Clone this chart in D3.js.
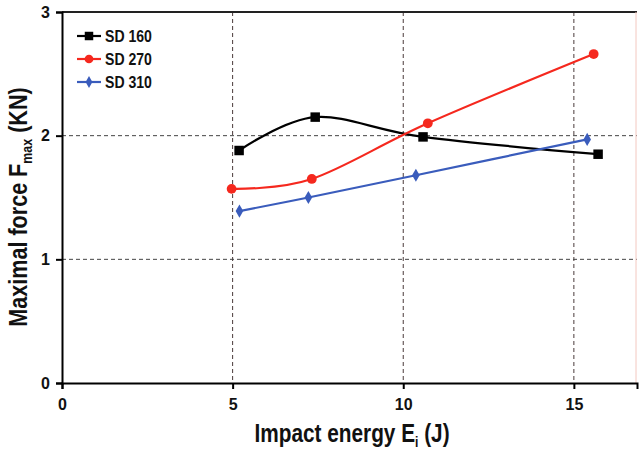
<!DOCTYPE html>
<html><head><meta charset="utf-8">
<script src="https://cdn.jsdelivr.net/npm/d3@7"></script>
<style>
html,body{margin:0;padding:0;background:#fff;}
svg{display:block;font-family:"Liberation Sans",Arial,sans-serif;}
</style></head>
<body><svg id="c" width="639" height="450"></svg>
<script>
const seriesNames = ["SD 160", "SD 270", "SD 310"];
const sd160 = [[5.19, 1.88], [7.42, 2.15], [10.58, 1.99], [15.71, 1.85]];
const sd270 = [[4.97, 1.57], [7.32, 1.65], [10.72, 2.10], [15.58, 2.66]];
const sd310 = [[5.20, 1.39], [7.22, 1.50], [10.37, 1.68], [15.39, 1.97]];
const xTicks = [0, 5, 10, 15];
const yTicks = [0, 1, 2, 3];
const xDomain = [0, 16.85];
const yDomain = [0, 3];

const svg = d3.select("#c");
const m = {l: 62, r: 2, t: 12, b: 67};
const W = 639, H = 450;
const x = d3.scaleLinear().domain(xDomain).range([m.l, W - m.r]);
const y = d3.scaleLinear().domain(yDomain).range([H - m.b, m.t]);

// grid
const g = svg.append("g");
g.selectAll(".vg").data(xTicks.filter(d => d > 0)).enter().append("line")
  .attr("x1", d => x(d)).attr("x2", d => x(d)).attr("y1", y(3)).attr("y2", y(0))
  .attr("stroke", "#4a3a3a").attr("stroke-width", 1).attr("stroke-dasharray", "4,3");
g.selectAll(".hg").data(yTicks.filter(d => d > 0 && d < 3)).enter().append("line")
  .attr("x1", x(0)).attr("x2", x(xDomain[1])).attr("y1", d => y(d)).attr("y2", d => y(d))
  .attr("stroke", "#444").attr("stroke-width", 1).attr("stroke-dasharray", "4,3");

// frame top and right
svg.append("line").attr("x1", x(0)).attr("x2", x(xDomain[1])).attr("y1", y(3)).attr("y2", y(3))
  .attr("stroke", "#222").attr("stroke-width", 2);
svg.append("line").attr("x1", x(xDomain[1]) - 1).attr("x2", x(xDomain[1]) - 1).attr("y1", y(3)).attr("y2", y(0))
  .attr("stroke", "#f3c8c0").attr("stroke-width", 1);

// axes
const xAxis = d3.axisBottom(x).tickValues(xTicks).tickSize(6).tickPadding(10).tickFormat(d3.format("d"));
const yAxis = d3.axisLeft(y).tickValues(yTicks).tickSize(6).tickPadding(6).tickFormat(d3.format("d"));
const xa = svg.append("g").attr("transform", `translate(0,${y(0)})`).call(xAxis);
const ya = svg.append("g").attr("transform", `translate(${x(0)},0)`).call(yAxis);
[xa, ya].forEach(a => {
  a.select(".domain").attr("stroke", "#000").attr("stroke-width", 2);
  a.selectAll(".tick line").attr("stroke", "#000").attr("stroke-width", 2);
  a.selectAll(".tick text").attr("fill", "#111").style("font-size", "16px").style("font-weight", "bold")
    .style("font-family", "'Liberation Sans',Arial,sans-serif");
});

// series
const series = [
  {name: seriesNames[0], data: sd160, color: "#000000", sym: d3.symbolSquare, size: 90},
  {name: seriesNames[1], data: sd270, color: "#f5281e", sym: d3.symbolCircle, size: 75},
  {name: seriesNames[2], data: sd310, color: "#3a5cbc", sym: d3.symbolDiamond, size: 50}
];
const line = d3.line().x(d => x(d[0])).y(d => y(d[1])).curve(d3.curveCatmullRom.alpha(0));
series.forEach(s => {
  svg.append("path").attr("d", line(s.data)).attr("fill", "none")
    .attr("stroke", s.color).attr("stroke-width", 2.2);
  svg.selectAll(null).data(s.data).enter().append("path")
    .attr("d", d3.symbol().type(s.sym).size(s.size))
    .attr("transform", d => `translate(${x(d[0])},${y(d[1])})`)
    .attr("fill", s.color);
});

// legend
const lg = svg.append("g").attr("transform", "translate(77,36)");
series.forEach((s, i) => {
  const row = lg.append("g").attr("transform", `translate(0,${i * 23})`);
  row.append("line").attr("x1", 0).attr("x2", 24).attr("y1", 0).attr("y2", 0)
    .attr("stroke", s.color).attr("stroke-width", 2.2);
  row.append("path").attr("d", d3.symbol().type(s.sym).size(s.size * 0.8)).attr("transform", "translate(12,0)")
    .attr("fill", s.color);
  row.append("text").attr("transform", "translate(28,6) scale(0.88,1)").text(s.name)
    .style("font-size", "16px").style("font-weight", "bold").attr("fill", "#111");
});

// axis titles
const xt = svg.append("text").attr("transform", "translate(352,442) scale(0.8,1)").attr("text-anchor", "middle")
  .style("font-size", "26px").style("font-weight", "bold").attr("fill", "#111");
xt.append("tspan").text("Impact energy E");
xt.append("tspan").text("i").style("font-size", "15px").attr("dy", 5);
xt.append("tspan").text(" (J)").attr("dy", -5);

const yt = svg.append("text").attr("transform", "translate(27,207) rotate(-90) scale(0.83,1)").attr("text-anchor", "middle")
  .style("font-size", "26px").style("font-weight", "bold").attr("fill", "#111");
yt.append("tspan").text("Maximal force F");
yt.append("tspan").text("max").style("font-size", "15px").attr("dy", 5);
yt.append("tspan").text(" (KN)").attr("dy", -5);
</script></body></html>
